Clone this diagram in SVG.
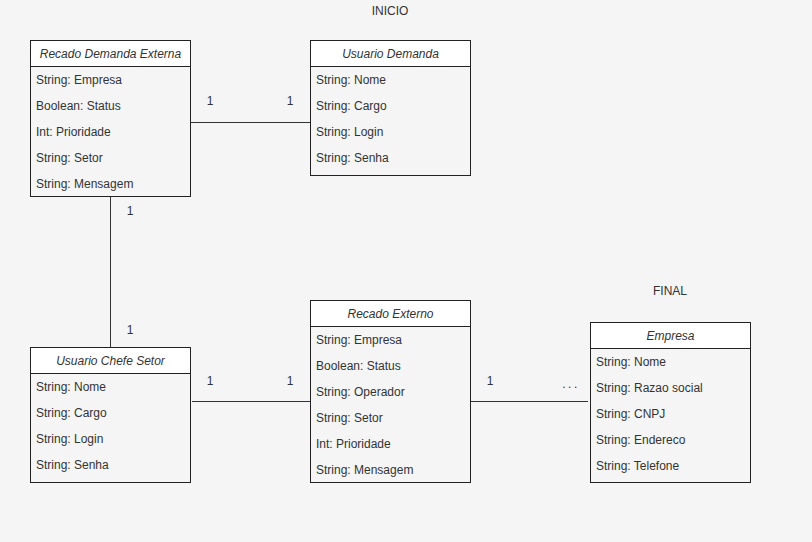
<svg xmlns="http://www.w3.org/2000/svg" width="812" height="542" viewBox="0 0 812 542">
<style>
text{font-family:"Liberation Sans",Arial,sans-serif;font-size:12px;fill:#333}
.t{font-style:italic;text-anchor:middle}
.hd{fill:#fff;stroke:#222;stroke-width:1}
.bx{fill:none;stroke:#222;stroke-width:1}
.c{stroke:#333;stroke-width:1;fill:none}
.m{text-anchor:middle}
</style>
<rect width="812" height="542" fill="#f5f5f5"/>
<text x="390" y="15" class="m">INICIO</text>
<text x="670" y="295" class="m">FINAL</text>
<g id="connectors">
<path class="c" d="M190.5 122.5H310.5"/>
<path class="c" d="M110.5 196V347.5"/>
<path class="c" d="M192 401.5H310.5"/>
<path class="c" d="M470.5 401.5H588"/>
<text x="210" y="105" class="m">1</text>
<text x="290" y="105" class="m">1</text>
<text x="130" y="215" class="m">1</text>
<text x="130" y="334" class="m">1</text>
<text x="210" y="385" class="m">1</text>
<text x="290" y="385" class="m">1</text>
<text x="490" y="385" class="m">1</text>
<text x="571" y="388" class="m" letter-spacing="2.5">...</text>
</g>
<g id="recado-demanda-externa">
<rect class="hd" x="30.5" y="40.5" width="160" height="26"/>
<rect class="bx" x="30.5" y="40.5" width="160" height="156"/>
<text x="110.5" y="57.5" class="t">Recado Demanda Externa</text>
<text x="36" y="83.5">String: Empresa</text>
<text x="36" y="109.5">Boolean: Status</text>
<text x="36" y="135.5">Int: Prioridade</text>
<text x="36" y="161.5">String: Setor</text>
<text x="36" y="187.5">String: Mensagem</text>
</g>
<g id="usuario-demanda">
<rect class="hd" x="310.5" y="40.5" width="160" height="26"/>
<rect class="bx" x="310.5" y="40.5" width="160" height="135"/>
<text x="390.5" y="57.5" class="t">Usuario Demanda</text>
<text x="316" y="83.5">String: Nome</text>
<text x="316" y="109.5">String: Cargo</text>
<text x="316" y="135.5">String: Login</text>
<text x="316" y="161.5">String: Senha</text>
</g>
<g id="usuario-chefe-setor">
<rect class="hd" x="30.5" y="347.5" width="160" height="26"/>
<rect class="bx" x="30.5" y="347.5" width="160" height="135"/>
<text x="110.5" y="364.5" class="t">Usuario Chefe Setor</text>
<text x="36" y="390.5">String: Nome</text>
<text x="36" y="416.5">String: Cargo</text>
<text x="36" y="442.5">String: Login</text>
<text x="36" y="468.5">String: Senha</text>
</g>
<g id="recado-externo">
<rect class="hd" x="310.5" y="300.5" width="160" height="26"/>
<rect class="bx" x="310.5" y="300.5" width="160" height="182"/>
<text x="390.5" y="317.5" class="t">Recado Externo</text>
<text x="316" y="343.5">String: Empresa</text>
<text x="316" y="369.5">Boolean: Status</text>
<text x="316" y="395.5">String: Operador</text>
<text x="316" y="421.5">String: Setor</text>
<text x="316" y="447.5">Int: Prioridade</text>
<text x="316" y="473.5">String: Mensagem</text>
</g>
<g id="empresa">
<rect class="hd" x="590.5" y="322.5" width="160" height="26"/>
<rect class="bx" x="590.5" y="322.5" width="160" height="160"/>
<text x="670.5" y="339.5" class="t">Empresa</text>
<text x="596" y="365.5">String: Nome</text>
<text x="596" y="391.5">String: Razao social</text>
<text x="596" y="417.5">String: CNPJ</text>
<text x="596" y="443.5">String: Endereco</text>
<text x="596" y="469.5">String: Telefone</text>
</g>
</svg>
